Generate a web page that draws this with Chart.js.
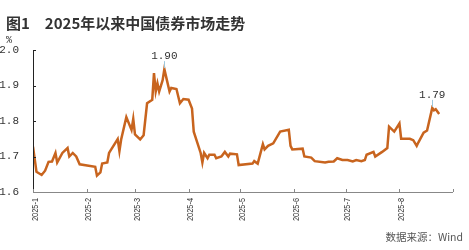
<!DOCTYPE html>
<html>
<head>
<meta charset="utf-8">
<script src="https://cdn.jsdelivr.net/npm/chart.js@4.4.1/dist/chart.umd.min.js"></script>
<style>
  html, body { margin: 0; padding: 0; background: #fff; }
  #wrap { position: relative; width: 469px; height: 250px; overflow: hidden; }
  #title { position: absolute; left: 6px; top: 12px; font: bold 15px "Noto Sans CJK SC", sans-serif; color: #333; white-space: nowrap; }
  #title span { margin-right: 15px; }
  #unit { position: absolute; left: 6px; top: 35px; font: 10px "Liberation Mono", monospace; color: #333; }
  #source { position: absolute; right: 6px; top: 229px; font: 10.5px "Noto Sans CJK SC", sans-serif; color: #555; }
  canvas { position: absolute; left: 0; top: 0; }
</style>
</head>
<body>
<div id="wrap">
  <canvas id="chart" width="469" height="250"></canvas>
  <div id="title"><span>图1</span>2025年以来中国债券市场走势</div>
  <div id="unit">%</div>
  <div id="source">数据来源：Wind</div>
</div>
<script>
// 日期（2025年）与收益率 %
const dates = [
  '2025-01-01', '2025-01-03', '2025-01-06', '2025-01-08', '2025-01-10', '2025-01-12', '2025-01-14', '2025-01-15',
  '2025-01-18', '2025-01-21', '2025-01-22', '2025-01-24', '2025-01-26', '2025-01-28', '2025-02-06', '2025-02-07',
  '2025-02-09', '2025-02-10', '2025-02-13', '2025-02-14', '2025-02-19', '2025-02-20', '2025-02-21', '2025-02-24',
  '2025-02-27', '2025-02-28', '2025-03-01', '2025-03-04', '2025-03-06', '2025-03-08', '2025-03-11', '2025-03-12',
  '2025-03-13', '2025-03-14', '2025-03-15', '2025-03-17', '2025-03-18', '2025-03-19', '2025-03-21', '2025-03-22',
  '2025-03-25', '2025-03-27', '2025-03-29', '2025-04-01', '2025-04-03', '2025-04-04', '2025-04-08', '2025-04-09',
  '2025-04-10', '2025-04-12', '2025-04-13', '2025-04-16', '2025-04-17', '2025-04-20', '2025-04-22', '2025-04-24',
  '2025-04-25', '2025-04-29', '2025-04-30', '2025-05-08', '2025-05-09', '2025-05-11', '2025-05-14', '2025-05-15',
  '2025-05-17', '2025-05-20', '2025-05-24', '2025-05-29', '2025-05-30', '2025-05-31', '2025-06-06', '2025-06-07',
  '2025-06-11', '2025-06-13', '2025-06-19', '2025-06-21', '2025-06-24', '2025-06-26', '2025-06-29', '2025-07-02',
  '2025-07-05', '2025-07-07', '2025-07-10', '2025-07-12', '2025-07-13', '2025-07-17', '2025-07-18', '2025-07-22',
  '2025-07-25', '2025-07-26', '2025-07-29', '2025-08-01', '2025-08-02', '2025-08-07', '2025-08-09', '2025-08-11',
  '2025-08-12', '2025-08-15', '2025-08-17', '2025-08-20', '2025-08-21', '2025-08-22', '2025-08-24'
];
const yields = [
  1.728, 1.657, 1.648, 1.660, 1.685, 1.686, 1.710, 1.683,
  1.710, 1.724, 1.700, 1.710, 1.700, 1.678, 1.671, 1.646,
  1.655, 1.680, 1.683, 1.710, 1.749, 1.715, 1.748, 1.811,
  1.775, 1.806, 1.762, 1.748, 1.760, 1.850, 1.860, 1.935,
  1.883, 1.906, 1.883, 1.915, 1.946, 1.925, 1.883, 1.893,
  1.890, 1.850, 1.862, 1.860, 1.835, 1.770, 1.710, 1.683,
  1.710, 1.695, 1.705, 1.705, 1.695, 1.700, 1.713, 1.700,
  1.708, 1.706, 1.676, 1.680, 1.687, 1.680, 1.735, 1.720,
  1.730, 1.737, 1.770, 1.775, 1.730, 1.720, 1.722, 1.700,
  1.697, 1.687, 1.683, 1.685, 1.686, 1.695, 1.690, 1.690,
  1.686, 1.690, 1.687, 1.690, 1.705, 1.713, 1.700, 1.713,
  1.724, 1.784, 1.770, 1.793, 1.750, 1.750, 1.746, 1.730,
  1.740, 1.767, 1.773, 1.837, 1.830, 1.833, 1.820
];
const monthStarts = ['2025-01-01', '2025-02-01', '2025-03-01', '2025-04-01', '2025-05-01', '2025-06-01', '2025-07-01', '2025-08-01', '2025-09-01'];
const monthLabels = ['2025-1', '2025-2', '2025-3', '2025-4', '2025-5', '2025-6', '2025-7', '2025-8', ''];
const yTicks = [1.6, 1.7, 1.8, 1.9, 2.0];
// 标注
const markDates = ['2025-03-18', '2025-08-20'];
const markValues = [1.946, 1.837];
const markLabels = ['1.90', '1.79'];

const dayOf = s => Math.round((Date.parse(s) - Date.parse('2025-01-01')) / 86400000);
const points = dates.map((d, i) => ({ x: dayOf(d), y: yields[i] }));
const monthDays = monthStarts.map(dayOf);

// 坐标轴、内侧刻度、竖排月份标签和数值标注
const extras = {
  id: 'extras',
  afterDraw(chart) {
    const ctx = chart.ctx;
    const xs = chart.scales.x, ys = chart.scales.y;
    const area = chart.chartArea;
    ctx.save();
    ctx.lineWidth = 1;
    ctx.strokeStyle = '#222';
    ctx.beginPath();
    ctx.moveTo(area.left + 0.5, area.top);
    ctx.lineTo(area.left + 0.5, area.bottom);
    yTicks.forEach(v => {
      const y = Math.round(ys.getPixelForValue(v)) + 0.5;
      ctx.moveTo(area.left, y);
      ctx.lineTo(area.left + 3, y);
    });
    ctx.stroke();
    ctx.strokeStyle = '#888';
    ctx.beginPath();
    ctx.moveTo(area.left, area.bottom + 0.5);
    ctx.lineTo(area.right, area.bottom + 0.5);
    monthDays.forEach(d => {
      const x = Math.round(xs.getPixelForValue(d)) + 0.5;
      ctx.moveTo(x, area.bottom);
      ctx.lineTo(x, area.bottom - 3);
    });
    ctx.stroke();

    // 月份标签：竖排、窄体
    ctx.fillStyle = '#333';
    ctx.font = '9.5px "Liberation Sans", sans-serif';
    ctx.textAlign = 'right';
    ctx.textBaseline = 'middle';
    monthDays.forEach((d, i) => {
      if (!monthLabels[i]) return;
      const x = xs.getPixelForValue(d) + 2;
      ctx.save();
      ctx.translate(x, area.bottom + 6);
      ctx.rotate(-Math.PI / 2);
      ctx.scale(0.78, 1);
      ctx.fillText(monthLabels[i], 0, 0);
      ctx.restore();
    });

    ctx.font = '11px "Liberation Mono", monospace';
    ctx.fillStyle = '#333';
    ctx.textAlign = 'center';
    ctx.textBaseline = 'alphabetic';
    markDates.forEach((d, i) => {
      const x = xs.getPixelForValue(dayOf(d));
      const y = ys.getPixelForValue(markValues[i]);
      ctx.strokeStyle = '#9cc7dd';
      ctx.beginPath();
      ctx.moveTo(Math.round(x) + 0.5, y - 1);
      ctx.lineTo(Math.round(x) + 0.5, y - 8);
      ctx.stroke();
      ctx.fillText(markLabels[i], x, y - 10);
    });
    ctx.restore();
  }
};

new Chart(document.getElementById('chart'), {
  type: 'line',
  data: {
    datasets: [{
      data: points,
      borderColor: '#c8641e',
      borderWidth: 2.5,
      pointRadius: 0,
      tension: 0,
      fill: false
    }]
  },
  options: {
    responsive: false,
    animation: false,
    layout: { padding: { left: 0, top: 50, right: 16, bottom: 0 } },
    plugins: { legend: { display: false }, tooltip: { enabled: false } },
    scales: {
      x: {
        type: 'linear',
        min: 0,
        max: monthDays[monthDays.length - 1],
        afterBuildTicks: s => { s.ticks = monthDays.map(v => ({ value: v })); },
        afterFit: s => { s.height = 58; },
        grid: { display: false },
        border: { display: false },
        ticks: { display: false }
      },
      y: {
        min: 1.6,
        max: 2.0,
        afterBuildTicks: s => { s.ticks = yTicks.map(v => ({ value: v })); },
        afterFit: s => { s.width = 33; },
        grid: { display: false },
        border: { display: false },
        ticks: {
          padding: 6,
          color: '#333',
          font: { family: '"Liberation Mono", monospace', size: 11 },
          callback: v => v.toFixed(1)
        }
      }
    }
  },
  plugins: [extras]
});
</script>
</body>
</html>
